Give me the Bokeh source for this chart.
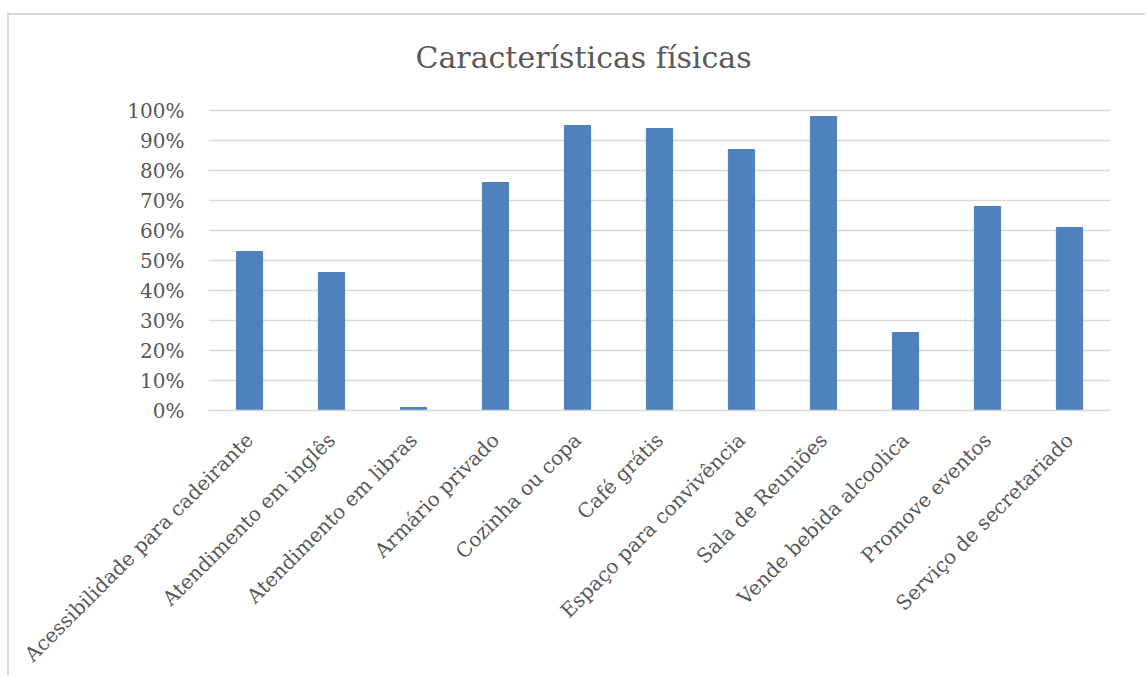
from bokeh.plotting import figure
from bokeh.models import NumeralTickFormatter, FixedTicker, FactorRange, Range1d
from bokeh.embed import file_html
from bokeh.resources import INLINE
import math

categories = [
    "Acessibilidade para cadeirante",
    "Atendimento em inglês",
    "Atendimento em libras",
    "Armário privado",
    "Cozinha ou copa",
    "Café grátis",
    "Espaço para convivência",
    "Sala de Reuniões",
    "Vende bebida alcoolica",
    "Promove eventos",
    "Serviço de secretariado",
]
values = [0.53, 0.46, 0.01, 0.76, 0.95, 0.94, 0.87, 0.98, 0.26, 0.68, 0.61]
y_ticks = [i / 10 for i in range(11)]
title_text = "Características físicas"

FONT = "DejaVu Serif"
TXT = "#595959"
GRID = "#d9d9d9"

p = figure(
    width=1138, height=662,
    x_range=FactorRange(*categories, range_padding=0),
    y_range=Range1d(0, 1 + 17 / 300),
    output_backend="svg", toolbar_location=None,
    min_border_left=199, min_border_right=37,
    min_border_top=78, min_border_bottom=267,
)
p.styles = {
    "margin-left": "7px", "margin-top": "13px",
    "border-left": "2px solid #d9d9d9", "border-top": "2px solid #d9d9d9",
}
p.outline_line_color = None
p.background_fill_color = "white"
p.border_fill_color = "white"

p.title.text = title_text
p.title.align = "left"
p.title.offset = 207
p.title.standoff = 38
p.title.text_font = FONT
p.title.text_font_size = "30px"
p.title.text_font_style = "normal"
p.title.text_color = TXT

p.vbar(x=categories, top=values, width=0.32, fill_color="#4F81BD",
       line_color="#4F81BD")

p.yaxis.ticker = FixedTicker(ticks=y_ticks)
p.yaxis.formatter = NumeralTickFormatter(format="0%")
p.yaxis.axis_line_color = None
p.yaxis.major_tick_line_color = None
p.yaxis.minor_tick_line_color = None
p.yaxis.major_label_text_font = FONT
p.yaxis.major_label_text_font_size = "20px"
p.yaxis.major_label_text_color = TXT
p.yaxis.major_label_standoff = 18

p.xaxis.axis_line_color = GRID
p.xaxis.axis_line_width = 1.5
p.xaxis.major_tick_line_color = None
p.xaxis.minor_tick_line_color = None
p.xaxis.major_label_orientation = math.pi / 4
p.xaxis.major_label_text_font = FONT
p.xaxis.major_label_text_font_size = "20px"
p.xaxis.major_label_text_color = TXT
p.xaxis.major_label_standoff = 20

p.xgrid.grid_line_color = None
p.ygrid.grid_line_color = GRID
p.ygrid.grid_line_width = 1.5

open("out.html", "w").write(file_html(p, INLINE))
